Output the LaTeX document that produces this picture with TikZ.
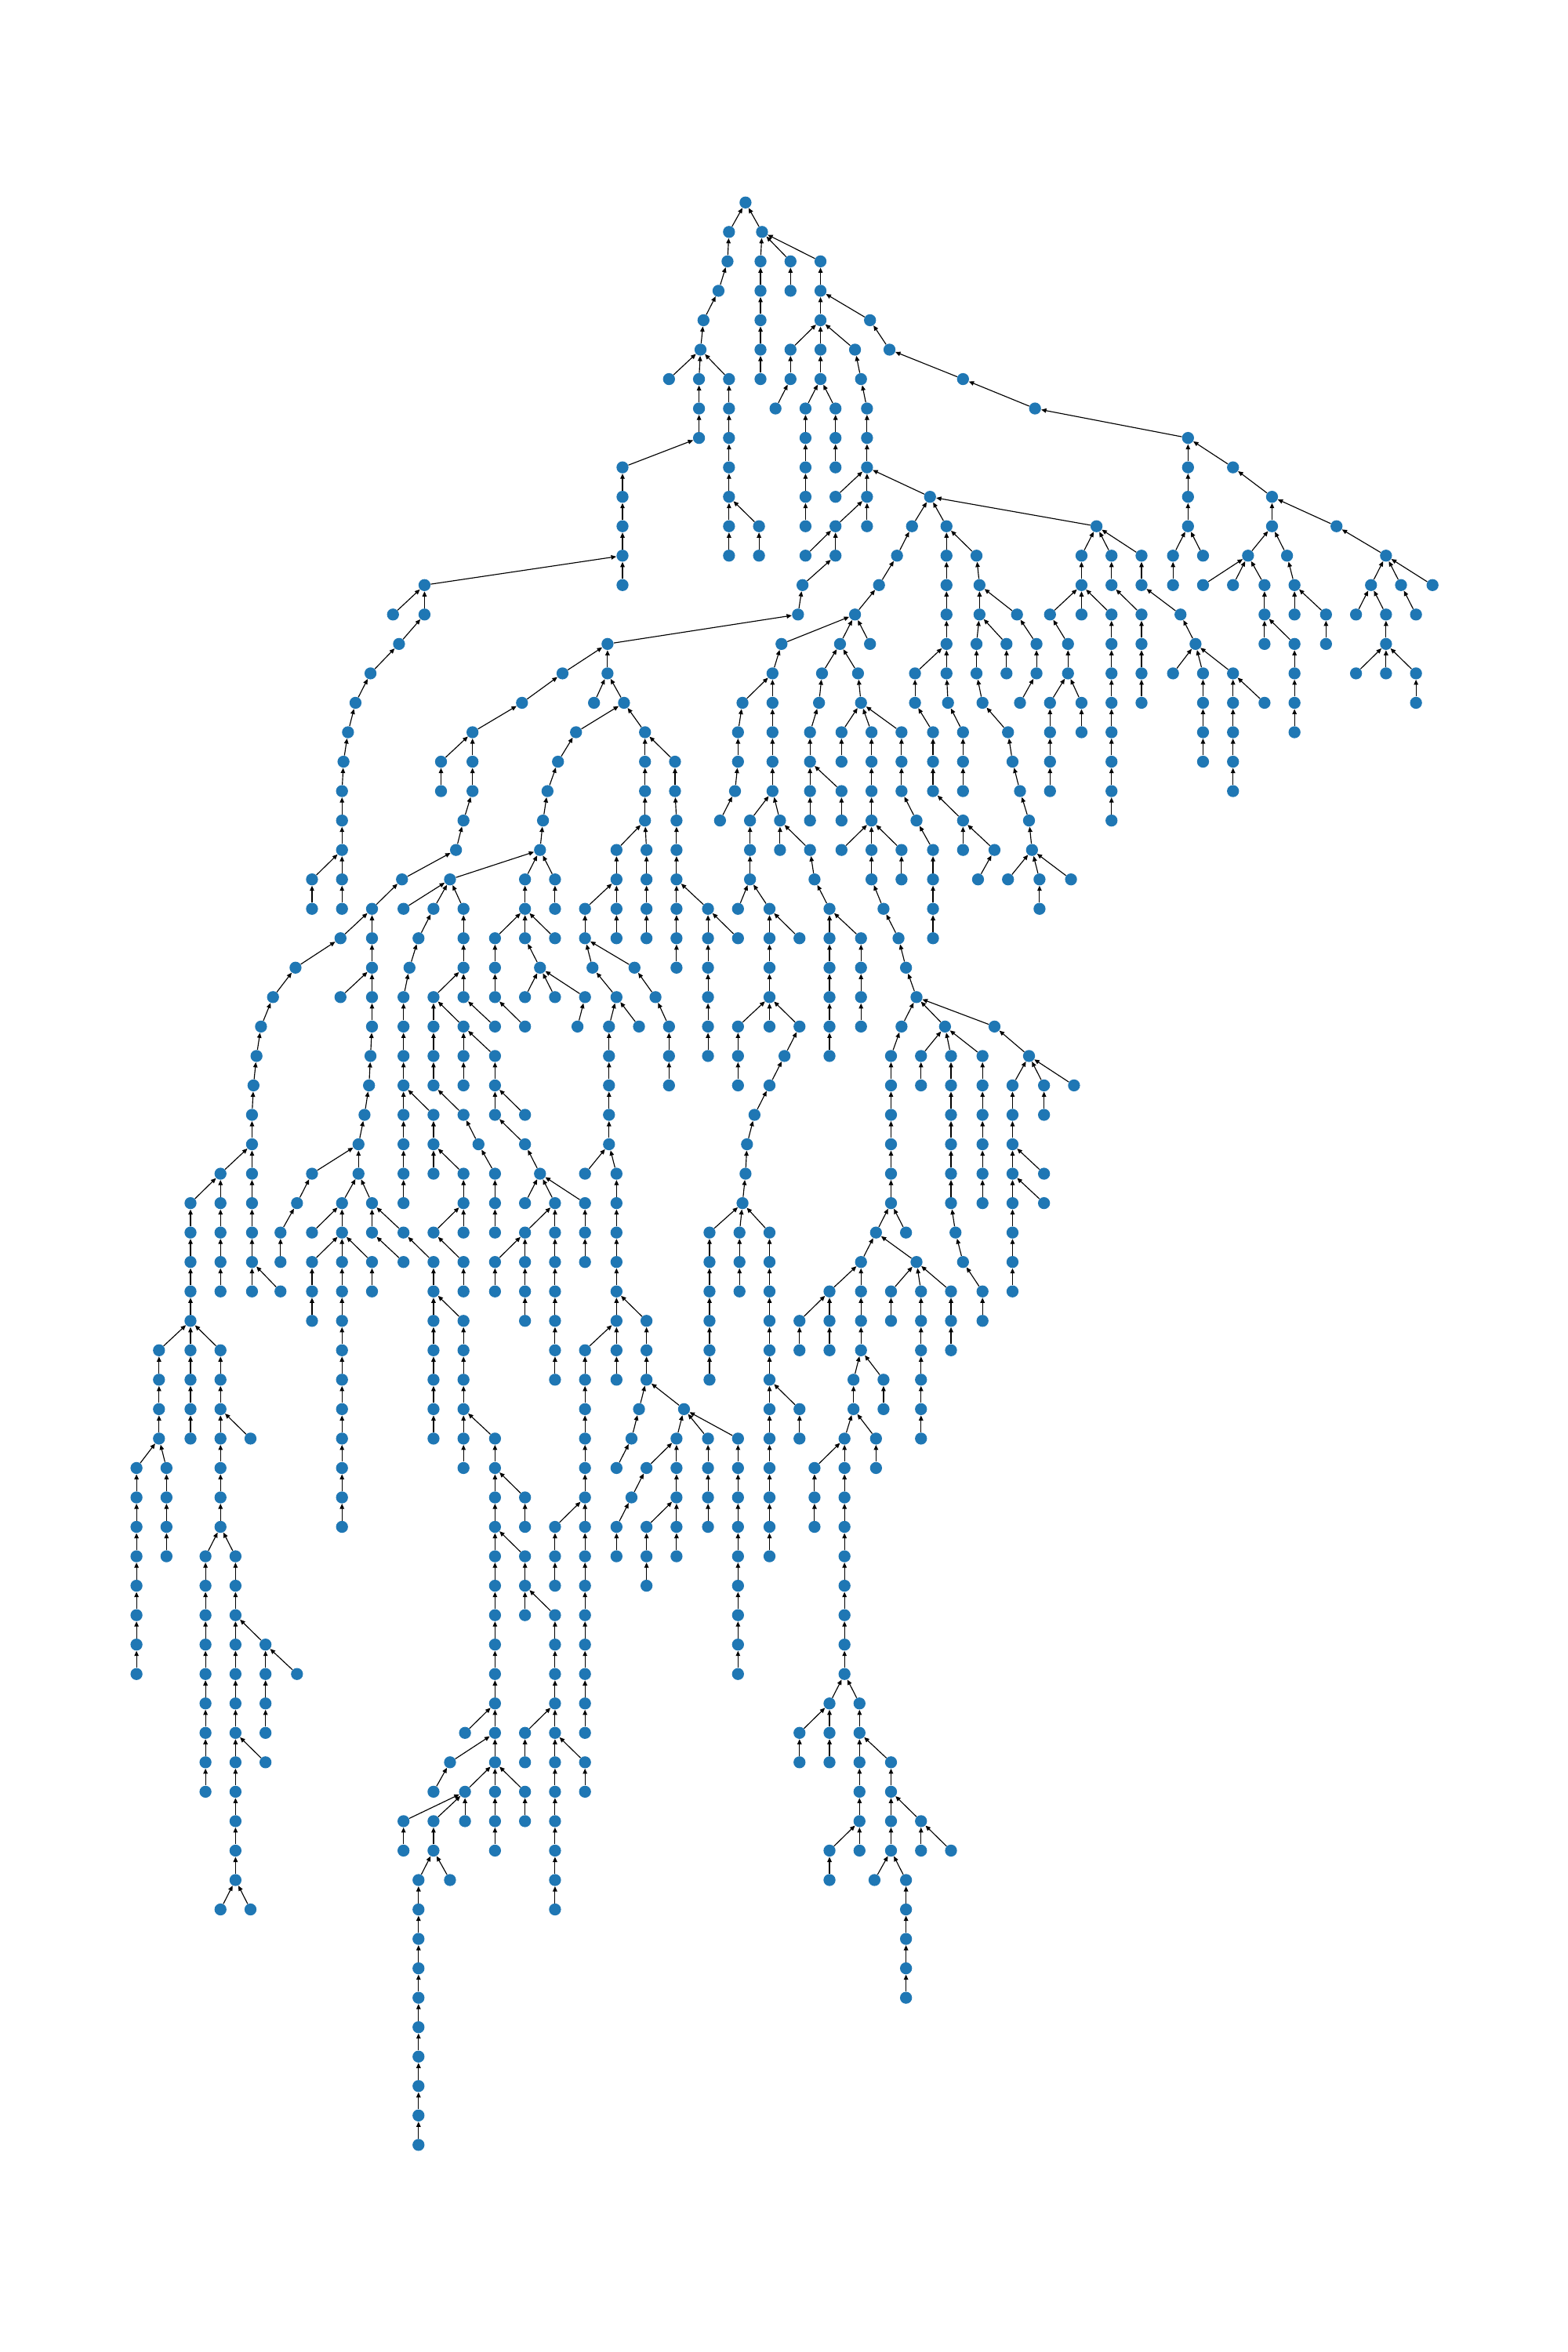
\documentclass[tikz,border=0pt]{standalone}
\usetikzlibrary{arrows.meta}
\definecolor{nodeblue}{RGB}{31,119,180}
\tikzset{
  dt/.style={circle, fill=nodeblue, draw=none, inner sep=0pt, minimum size=8pt},
  ar/.style={-{Triangle[length=3.4pt,width=2.9pt]}, line width=0.6pt, black}
}
\newcommand\lev[2]{\pgfmathtruncatemacro\pl{#1-1}%
  \foreach \x/\p in {#2}{\node[dt] (v#1x\x) at (\x,{-135-19.62*#1}) {}; \draw[ar] (v#1x\x) -- (v\pl x\p);}}
\begin{document}
\begin{tikzpicture}[x=1pt,y=1pt]
\useasboundingbox (0,0) rectangle (1045,-1568);
\fill[white] (0,0) rectangle (1045,-1568);
\node[dt] (v0x497) at (497,-135) {};
\lev{1}{486/497,508/497}
\lev{2}{485/486,507/508,527/508,547/508}
\lev{3}{479/485,507/507,527/527,547/547}
\lev{4}{469/479,507/507,547/547,580/547}
\lev{5}{467/469,507/507,527/547,547/547,570/547,593/580}
\lev{6}{446/467,466/467,486/467,507/507,527/527,547/547,574/570,642/593}
\lev{7}{466/466,486/486,517/527,537/547,557/547,578/574,690/642}
\lev{8}{466/466,486/486,537/537,557/557,578/578,792/690}
\lev{9}{415/466,486/486,537/537,557/557,578/578,792/792,822/792}
\lev{10}{415/415,486/486,537/537,557/578,578/578,620/578,792/792,848/822}
\lev{11}{415/415,486/486,506/486,537/537,557/578,578/578,608/620,631/620,731/620,792/792,848/848,891/848}
\lev{12}{415/415,486/486,506/506,537/557,557/557,598/608,631/631,651/631,721/731,741/731,761/731,782/792,802/792,832/848,858/848,924/891}
\lev{13}{283/415,415/415,535/557,586/598,631/631,653/651,721/721,741/741,761/761,782/782,802/832,822/832,843/832,863/858,914/924,934/924,955/924}
\lev{14}{262/283,283/283,532/535,570/586,631/631,653/653,678/653,700/721,721/721,741/721,761/741,787/761,843/843,863/863,884/863,904/914,924/914,944/934}
\lev{15}{266/283,405/532,521/570,560/570,580/570,631/631,651/653,671/653,691/678,712/700,741/741,761/761,797/787,843/843,863/843,884/884,924/924}
\lev{16}{247/266,375/405,405/405,515/521,548/560,572/560,610/631,631/631,651/651,671/671,691/691,712/712,741/741,761/761,782/797,802/797,822/797,863/863,904/924,924/924,944/924}
\lev{17}{237/247,348/375,396/405,416/405,495/515,515/515,546/548,574/572,610/610,632/631,655/651,680/691,700/712,721/712,741/741,761/761,802/802,822/822,843/822,863/863,944/944}
\lev{18}{232/237,315/348,384/416,430/416,492/495,515/515,540/546,561/574,581/574,601/574,622/610,642/632,672/655,700/700,721/721,741/741,802/802,822/822,863/863}
\lev{19}{229/232,294/315,315/315,372/384,430/430,450/430,492/492,515/515,540/540,561/561,581/581,601/601,622/622,642/642,675/672,700/700,741/741,802/802,822/822}
\lev{20}{228/229,294/294,315/315,365/372,430/430,450/450,490/492,515/515,540/540,561/540,581/581,601/601,622/622,642/642,680/675,700/700,741/741,822/822}
\lev{21}{228/228,309/315,362/365,430/430,451/450,480/490,500/515,520/515,540/540,561/561,581/581,611/601,642/622,686/680,741/741}
\lev{22}{228/228,304/309,360/362,411/430,431/430,451/451,500/500,520/520,540/520,561/581,581/581,601/581,622/611,642/642,663/642,688/686}
\lev{23}{208/228,228/228,268/304,300/360,350/360,370/360,411/411,431/431,451/451,500/500,543/540,581/581,601/601,622/622,652/663,672/688,693/688,714/688}
\lev{24}{208/208,228/228,248/268,269/300,289/300,309/300,350/350,370/370,390/411,411/411,431/431,451/451,472/451,492/500,513/500,553/543,589/581,622/622,693/693}
\lev{25}{227/248,248/248,279/289,309/309,330/350,350/350,370/350,390/390,411/411,431/431,451/451,472/472,492/472,513/513,533/513,553/553,574/553,599/589,622/622}
\lev{26}{197/227,248/248,273/279,309/309,330/330,360/350,395/390,423/390,451/451,472/472,513/513,553/553,574/574,604/599}
\lev{27}{182/197,227/248,248/248,269/273,289/309,309/309,330/330,350/360,370/360,390/360,411/395,437/423,472/472,513/513,553/553,574/574,611/604}
\lev{28}{174/182,248/248,269/269,289/289,309/289,330/309,350/330,385/390,406/411,426/411,446/437,472/472,492/513,513/513,533/513,553/553,574/574,601/611,630/611,663/611}
\lev{29}{171/174,247/248,269/269,289/289,309/309,330/309,406/406,446/446,472/472,492/492,523/533,553/553,594/601,614/630,634/630,655/630,686/663}
\lev{30}{169/171,246/247,269/269,289/289,309/309,330/330,406/406,446/446,492/492,513/523,594/594,614/614,634/634,655/655,675/686,696/686,716/686}
\lev{31}{168/169,243/246,269/269,289/269,309/289,330/330,350/330,406/406,503/513,594/594,634/634,655/655,675/675,696/696}
\lev{32}{168/168,239/243,269/269,289/289,319/309,350/330,406/406,498/503,594/594,634/634,655/655,675/675}
\lev{33}{147/168,168/168,208/239,239/239,269/269,289/289,309/289,330/319,360/350,390/406,411/406,497/498,594/594,634/634,655/655,675/675,696/675}
\lev{34}{127/147,147/147,168/168,198/208,228/239,248/239,269/269,309/309,330/330,350/360,370/360,390/360,411/411,495/497,594/594,634/634,655/655,675/675,696/675}
\lev{35}{127/127,147/147,168/168,187/198,208/228,228/228,248/248,269/248,289/309,309/309,330/330,350/370,370/370,390/390,411/411,473/495,493/495,513/495,584/594,604/594,637/634,675/675}
\lev{36}{127/127,147/147,168/168,187/187,208/228,228/228,248/228,269/248,289/269,309/289,330/350,350/350,370/370,390/390,411/411,473/473,493/493,513/513,574/584,611/584,642/637,675/675}
\lev{37}{127/127,147/147,168/168,187/168,208/208,228/228,248/248,289/289,309/309,330/330,350/350,370/370,411/411,473/473,493/493,513/513,553/574,574/574,594/611,614/611,634/611,655/642,675/675}
\lev{38}{127/127,208/208,228/228,289/289,309/289,350/350,370/370,411/411,431/411,473/473,513/513,533/553,553/553,574/574,594/594,614/614,634/634,655/655}
\lev{39}{106/127,127/127,147/127,228/228,289/289,309/309,370/370,390/411,411/411,431/431,473/473,513/513,533/533,553/553,574/574,614/614,634/634}
\lev{40}{106/106,127/127,147/147,228/228,289/289,309/309,370/370,390/390,411/411,431/431,473/473,513/513,569/574,589/574,614/614}
\lev{41}{106/106,127/127,147/147,228/228,289/289,309/309,390/390,426/431,456/431,513/513,533/513,569/569,589/589,614/614}
\lev{42}{106/106,127/127,147/147,167/147,228/228,289/289,309/309,330/309,390/390,421/426,451/456,472/456,492/456,513/513,533/533,563/569,584/569,614/614}
\lev{43}{91/106,111/106,147/147,228/228,309/309,330/330,390/390,411/421,431/451,451/451,472/472,492/492,513/513,543/563,563/563,584/584}
\lev{44}{91/91,111/111,147/147,228/228,330/330,350/330,390/390,421/431,451/451,472/472,492/492,513/513,543/543,563/563}
\lev{45}{91/91,111/111,147/147,228/228,330/330,350/350,370/390,390/390,411/421,431/451,451/451,472/472,492/492,513/513,543/543,563/563}
\lev{46}{91/91,111/111,137/147,157/147,330/330,350/330,370/370,390/390,411/411,431/431,451/451,492/492,513/513,563/563}
\lev{47}{91/91,137/137,157/157,330/330,350/350,370/370,390/390,431/431,492/492,563/563}
\lev{48}{91/91,137/137,157/157,330/330,350/350,370/350,390/390,492/492,563/563}
\lev{49}{91/91,137/137,157/157,177/157,330/330,370/370,390/390,492/492,563/563}
\lev{50}{91/91,137/137,157/157,177/177,198/177,330/330,370/370,390/390,492/492,563/563}
\lev{51}{137/137,157/157,177/177,330/330,370/370,390/390,553/563,573/563}
\lev{52}{137/137,157/157,177/177,310/330,330/330,350/370,370/370,390/390,533/553,553/553,573/573}
\lev{53}{137/137,157/157,177/157,300/330,330/330,350/350,370/370,390/370,533/533,553/553,573/573,594/573}
\lev{54}{137/137,157/157,289/300,310/330,330/330,350/330,370/370,390/390,573/573,594/594}
\lev{55}{157/157,269/310,289/310,310/310,330/330,350/350,370/370,573/573,594/594,614/594}
\lev{56}{157/157,269/269,289/289,330/330,370/370,553/573,573/573,594/594,614/614,634/614}
\lev{57}{157/157,279/289,300/289,370/370,553/553,583/594,604/594}
\lev{58}{147/157,167/157,279/279,370/370,604/604}
\lev{59}{279/279,604/604}
\lev{60}{279/279,604/604}
\lev{61}{279/279,604/604}
\lev{62}{279/279}
\lev{63}{279/279}
\lev{64}{279/279}
\lev{65}{279/279}
\lev{66}{279/279}
\end{tikzpicture}
\end{document}
